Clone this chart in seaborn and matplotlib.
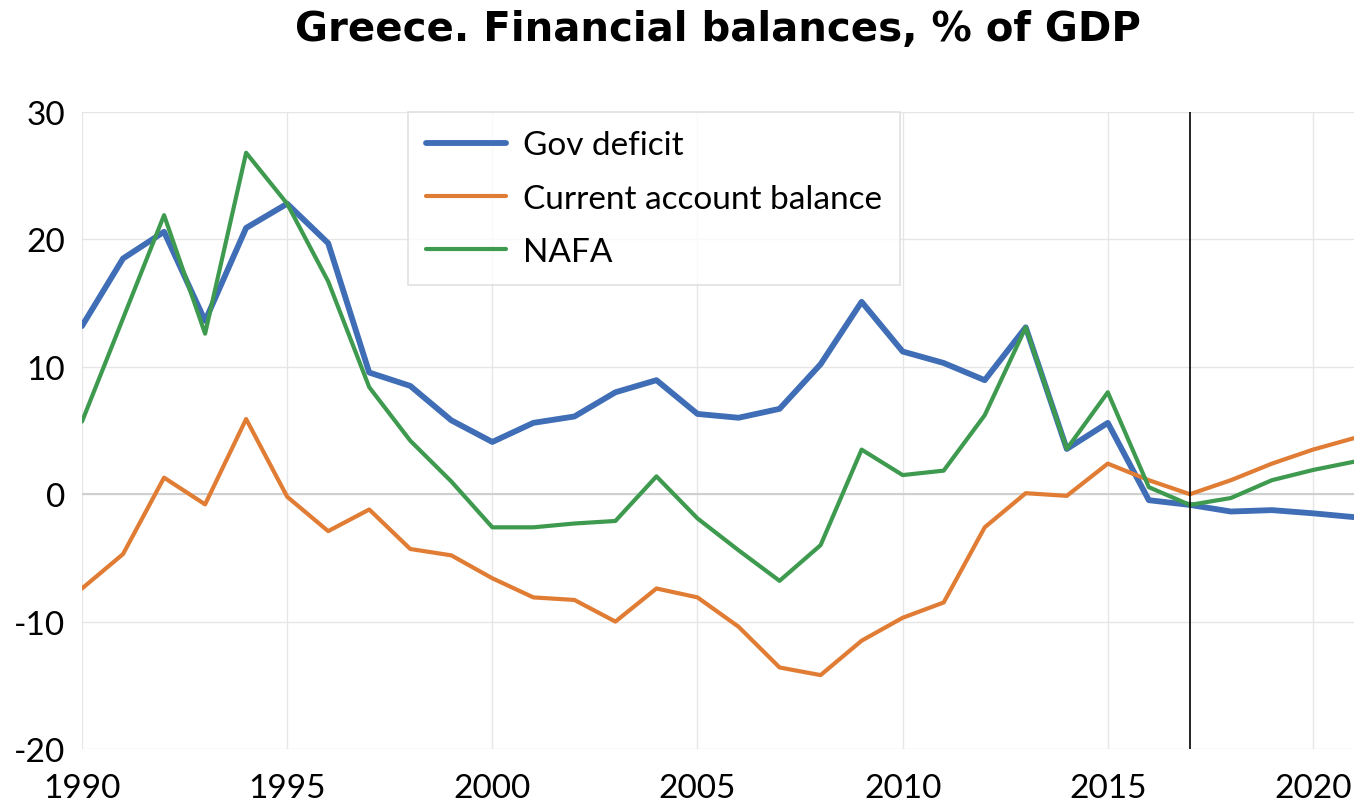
import matplotlib
matplotlib.use("Agg")
import matplotlib.pyplot as plt
import seaborn as sns
import pandas as pd

years = list(range(1990, 2022))
gov_deficit = [13.2, 18.5, 20.6, 13.6, 20.9, 22.8, 19.7, 9.55, 8.5, 5.8,
               4.1, 5.6, 6.1, 8.0, 8.95, 6.3, 6.0, 6.7, 10.2, 15.1,
               11.2, 10.3, 8.95, 13.1, 3.55, 5.6, -0.47, -0.84, -1.36, -1.25,
               -1.5, -1.8]
current_account = [-7.4, -4.7, 1.3, -0.8, 5.9, -0.2, -2.9, -1.2, -4.3, -4.8,
                   -6.6, -8.1, -8.3, -10.0, -7.4, -8.1, -10.4, -13.6, -14.2, -11.5,
                   -9.7, -8.5, -2.6, 0.08, -0.13, 2.4, 1.1, 0.0, 1.1, 2.4,
                   3.5, 4.4]
nafa = [5.7, 13.8, 21.9, 12.6, 26.8, 22.8, 16.7, 8.4, 4.2, 1.0,
        -2.6, -2.6, -2.3, -2.1, 1.4, -1.9, -4.4, -6.8, -4.0, 3.5,
        1.5, 1.85, 6.2, 13.1, 3.55, 8.0, 0.55, -0.84, -0.3, 1.1,
        1.9, 2.55]
series_names = ["Gov deficit", "Current account balance", "NAFA"]
colors = ["#3F6DB6", "#E07C33", "#3E9A4E"]
widths = [4.2, 3.0, 3.0]
title = "Greece. Financial balances, % of GDP"
x_ticks = [1990, 1995, 2000, 2005, 2010, 2015, 2020]
y_ticks = [-20, -10, 0, 10, 20, 30]
marker_year = 2017

df = pd.DataFrame({"year": years, series_names[0]: gov_deficit,
                   series_names[1]: current_account, series_names[2]: nafa})
long = df.melt(id_vars="year", var_name="series", value_name="value")

sns.set_theme(style="white")
plt.rcParams["font.family"] = ["Lato", "DejaVu Sans"]
plt.rcParams["axes.unicode_minus"] = False
plt.rcParams["text.color"] = "black"
plt.rcParams["xtick.color"] = "black"
plt.rcParams["ytick.color"] = "black"

fig = plt.figure(figsize=(13.61, 8.03), dpi=100)
ax = fig.add_axes([82/1361, 1-750/803, (1354-82)/1361, (750-113)/803])

for name, c, w in zip(series_names, colors, widths):
    sns.lineplot(data=long[long["series"] == name], x="year", y="value",
                 color=c, linewidth=w, ax=ax, label=name)

ax.set_xlim(1990, 2021)
ax.set_ylim(-20, 30)
ax.set_xticks(x_ticks)
ax.set_yticks(y_ticks)
ax.grid(True, color="#e6e6e6", linewidth=1.0)
ax.axhline(0, color="#d0d0d0", linewidth=1.5, zorder=1)
ax.axvline(marker_year, color="black", linewidth=1.2, zorder=5)
for s in ax.spines.values():
    s.set_visible(False)
ax.tick_params(axis="both", length=0, labelsize=24, labelcolor="black")
ax.tick_params(axis="x", pad=17)
ax.tick_params(axis="y", pad=12)
ax.set_xlabel("")
ax.set_ylabel("")

leg = ax.legend(loc="upper left", bbox_to_anchor=(408/1361, 1-113/803),
                bbox_transform=fig.transFigure, fontsize=24, frameon=True,
                fancybox=False, edgecolor="#d9d9d9", handlelength=2.4,
                labelspacing=0.7, borderpad=0.55, handletextpad=0.5,
                borderaxespad=0)
leg.get_frame().set_linewidth(1.2)
for t in leg.get_texts():
    t.set_color("black")

fig.text(718/1361, 1-30/803, title, ha="center", va="center",
         fontsize=29, fontweight="bold", family="DejaVu Sans", color="black")

fig.savefig("out.png", dpi=100)
